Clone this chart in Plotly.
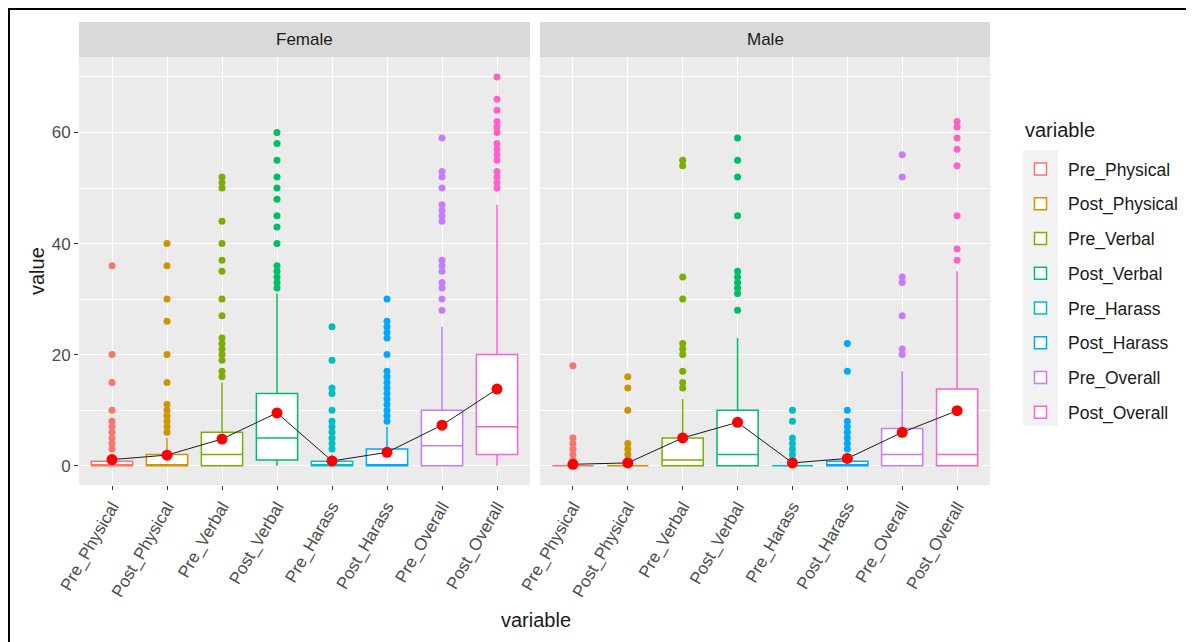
import plotly.graph_objects as go

categories = ["Pre_Physical", "Post_Physical", "Pre_Verbal", "Post_Verbal",
              "Pre_Harass", "Post_Harass", "Pre_Overall", "Post_Overall"]
panels = ["Female", "Male"]
y_ticks = [0, 20, 40, 60]

female_q1 = [0, 0, 0, 1, 0, 0, 0, 2]
female_median = [0, 0, 2, 5, 0, 0, 3.6, 7]
female_q3 = [0.8, 2, 6, 13, 0.8, 3, 10, 20]
female_lower = [0, 0, 0, 0, 0, 0, 0, 0]
female_upper = [2, 5, 15, 31, 2, 7, 25, 47]
female_mean = [1.1, 1.9, 4.8, 9.5, 0.85, 2.4, 7.3, 13.8]
female_outliers = [
    [36, 20, 15, 10, 8, 7, 6, 5, 4, 3],
    [40, 36, 30, 26, 20, 15, 11, 10, 9, 8, 7, 6],
    [52, 51, 50, 44, 40, 37, 35, 30, 27, 23, 22, 21, 20, 19, 17, 16],
    [60, 58, 55, 52, 50, 48, 45, 43, 40, 36, 35, 34, 33, 32],
    [25, 19, 14, 13, 10, 8, 7, 6, 5, 4, 3],
    [30, 26, 25, 24, 23, 20, 17, 16, 15, 14, 13, 12, 11, 10, 9, 8],
    [59, 53, 52, 50, 47, 46, 45, 44, 37, 36, 35, 33, 32, 30, 28],
    [70, 66, 64, 62, 61, 60, 58, 57, 56, 55, 53, 52, 51, 50],
]

male_q1 = [0, 0, 0, 0, 0, 0, 0, 0]
male_median = [0, 0, 1, 2, 0, 0, 2, 2]
male_q3 = [0, 0, 5, 10, 0, 0.8, 6.7, 13.8]
male_lower = [0, 0, 0, 0, 0, 0, 0, 0]
male_upper = [0, 0, 12, 23, 0, 2, 17, 35]
male_mean = [0.25, 0.5, 5, 7.8, 0.5, 1.3, 6, 9.9]
male_outliers = [
    [18, 5, 4, 3, 2, 1],
    [16, 14, 10, 4, 3, 2, 1],
    [55, 54, 34, 30, 22, 21, 20, 17, 15, 14],
    [59, 55, 52, 45, 35, 34, 33, 32, 31, 28],
    [10, 8, 5, 4, 3, 2, 1],
    [22, 17, 10, 8, 7, 6, 5, 4, 3],
    [56, 52, 34, 33, 27, 21, 20],
    [62, 61, 59, 57, 54, 45, 39, 37],
]

colors = ["#F8766D", "#CD9600", "#7CAE00", "#00BE67",
          "#00BFC4", "#00A9FF", "#C77CFF", "#FF61CC"]

FONT = "Liberation Sans, Arial, sans-serif"
OFF = 8  # page body margin
W, H = 1186, 634
ML, MR, MT, MB = 71, 204, 49, 157
PW = W - ML - MR
PH = H - MT - MB


def px_x(p):
    """screen pixel x -> paper x"""
    return (p - OFF - ML) / PW


def px_y(p):
    """screen pixel y -> paper y"""
    return (OFF + H - MB - p) / PH


fig = go.Figure()

data = [
    (female_q1, female_median, female_q3, female_lower, female_upper, female_mean, female_outliers),
    (male_q1, male_median, male_q3, male_lower, male_upper, male_mean, male_outliers),
]

xpos = list(range(1, len(categories) + 1))

for pi, (q1, med, q3, lo, up, mean, outl) in enumerate(data):
    xa = "x" if pi == 0 else "x2"
    ya = "y" if pi == 0 else "y2"
    for i, cat in enumerate(categories):
        fig.add_trace(go.Box(
            x=[xpos[i]], q1=[q1[i]], median=[med[i]], q3=[q3[i]],
            lowerfence=[lo[i]], upperfence=[up[i]],
            name=cat, legendgroup=cat, showlegend=(pi == 0),
            width=0.75, whiskerwidth=0, boxpoints=False,
            fillcolor="white", line=dict(color=colors[i], width=1.5),
            xaxis=xa, yaxis=ya,
        ))
        fig.add_trace(go.Scatter(
            x=[xpos[i]] * len(outl[i]), y=outl[i], mode="markers",
            marker=dict(color=colors[i], size=7), showlegend=False,
            legendgroup=cat, xaxis=xa, yaxis=ya, hoverinfo="y",
        ))
    fig.add_trace(go.Scatter(
        x=xpos, y=mean, mode="lines+markers",
        line=dict(color="#1a1a1a", width=1),
        marker=dict(color="#FF0000", size=11),
        showlegend=False, xaxis=xa, yaxis=ya,
    ))

dom_f = [0, px_x(530)]
dom_m = [px_x(540), 1]

TICKSIZE = 17

xcommon = dict(
    range=[0.4, 8.6], tickmode="array", tickvals=xpos, ticktext=categories,
    tickangle=-60, showgrid=True, gridcolor="white", gridwidth=1.2,
    zeroline=False, ticks="outside", ticklen=4, tickcolor="#333333",
    tickfont=dict(family=FONT, size=TICKSIZE, color="#4d4d4d"), showline=False,
)
ycommon = dict(
    range=[-3.48, 73.6], tickmode="array", tickvals=y_ticks,
    showgrid=True, gridcolor="white", gridwidth=1.2, zeroline=False,
    minor=dict(tickvals=[10, 30, 50, 70], showgrid=True, gridcolor="white", gridwidth=0.6, ticks=""),
    showline=False,
)

fig.update_layout(
    width=W, height=H,
    margin=dict(l=ML, r=MR, t=MT, b=MB, autoexpand=False),
    paper_bgcolor="white", plot_bgcolor="#EBEBEB",
    font=dict(family=FONT, color="#1a1a1a"),
    xaxis=dict(domain=dom_f, anchor="y", **xcommon),
    xaxis2=dict(domain=dom_m, anchor="y2", **xcommon),
    yaxis=dict(domain=[0, 1], anchor="x", ticks="outside", ticklen=4, tickcolor="#333333",
               tickfont=dict(family=FONT, size=TICKSIZE, color="#4d4d4d"), **ycommon),
    yaxis2=dict(domain=[0, 1], anchor="x2", matches="y", showticklabels=False, ticks="", **ycommon),
    legend=dict(
        x=px_x(1013), y=px_y(151), xanchor="left", yanchor="top",
        font=dict(family=FONT, size=17.5, color="#1a1a1a"),
        bgcolor="rgba(0,0,0,0)", tracegroupgap=9, itemwidth=45,
    ),
    showlegend=True,
)

shapes = []
annotations = []
for dom, label in zip([dom_f, dom_m], panels):
    shapes.append(dict(type="rect", xref="paper", yref="paper",
                       x0=dom[0], x1=dom[1], y0=1, y1=px_y(22),
                       fillcolor="#D9D9D9", line=dict(width=0), layer="below"))
    annotations.append(dict(text=label, xref="paper", yref="paper",
                            x=(dom[0] + dom[1]) / 2, y=(1 + px_y(22)) / 2,
                            xanchor="center", yanchor="middle",
                            showarrow=False, font=dict(family=FONT, size=TICKSIZE, color="#1a1a1a")))

# legend key background
shapes.append(dict(type="rect", xref="paper", yref="paper",
                   x0=px_x(1023), x1=px_x(1058), y0=px_y(426), y1=px_y(150),
                   fillcolor="#F2F2F2", line=dict(width=0), layer="below"))

# outer frame
shapes.append(dict(type="rect", xref="paper", yref="paper",
                   x0=px_x(9), x1=px_x(1220), y0=px_y(680), y1=px_y(9),
                   fillcolor="rgba(0,0,0,0)", line=dict(color="black", width=2)))

annotations.append(dict(text="variable", xref="paper", yref="paper",
                        x=px_x(1023), y=px_y(130), xanchor="left", yanchor="middle",
                        showarrow=False, font=dict(family=FONT, size=20, color="#1a1a1a")))
annotations.append(dict(text="value", xref="paper", yref="paper",
                        x=px_x(37), y=0.5, textangle=-90, showarrow=False,
                        xanchor="center", yanchor="middle",
                        font=dict(family=FONT, size=20, color="#1a1a1a")))
annotations.append(dict(text="variable", xref="paper", yref="paper",
                        x=px_x(536), y=px_y(620), showarrow=False,
                        xanchor="center", yanchor="middle",
                        font=dict(family=FONT, size=20, color="#1a1a1a")))

fig.update_layout(shapes=shapes, annotations=annotations)

fig.write_html("out.html")
